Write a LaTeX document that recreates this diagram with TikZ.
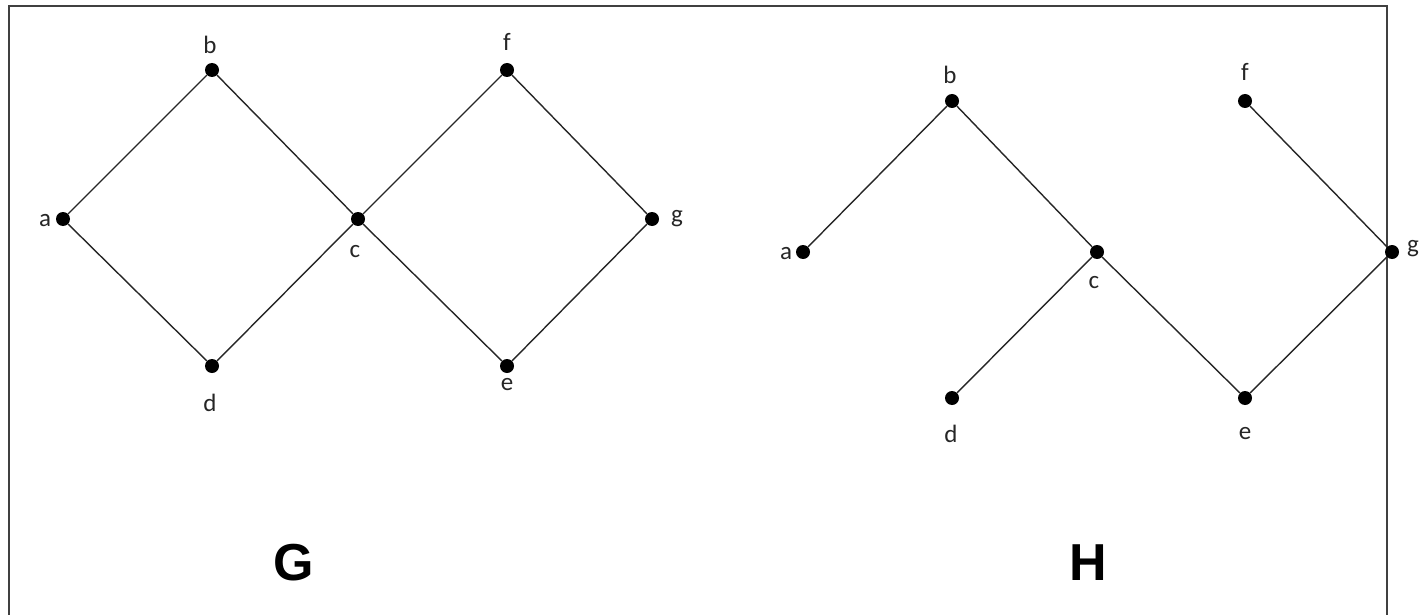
\documentclass[tikz,border=0pt]{standalone}
\usepackage{fontspec}
\setmainfont{Carlito}
\newfontfamily\bigfont{Liberation Sans}
\begin{document}
\begin{tikzpicture}[x=1pt,y=-1pt,
  vtx/.style={circle,fill=black,inner sep=0pt,minimum size=14pt},
  lbl/.style={font=\fontsize{25}{27}\selectfont,inner sep=0pt,text=black!85},
  edge/.style={draw=black!85,line width=1.4pt},
  glabel/.style={font=\bigfont\bfseries\fontsize{52}{58}\selectfont,inner sep=0pt}]
\useasboundingbox (0,0) rectangle (1420,615);
\fill[white] (0,0) rectangle (1420,615);
\draw[black!75,line width=2.5pt] (9,615) -- (9,6) -- (1387,6) -- (1387,615);
% Graph G
\node[vtx] (ga) at (63,219) {};
\node[vtx] (gb) at (212,70) {};
\node[vtx] (gc) at (358,219) {};
\node[vtx] (gd) at (212,366) {};
\node[vtx] (gf) at (507,70) {};
\node[vtx] (gg) at (652,219) {};
\node[vtx] (ge) at (507,366) {};
\draw[edge] (ga) -- (gb) -- (gc) -- (gd) -- (ga);
\draw[edge] (gc) -- (gf) -- (gg) -- (ge) -- (gc);
\node[lbl] (lga) at (45,221) {a};
\node[lbl] (lgb) at (210,45) {b};
\node[lbl] (lgc) at (355,252) {c};
\node[lbl] (lgd) at (210,403) {d};
\node[lbl] (lgf) at (507,42) {f};
\node[lbl] (lgg) at (677,219) {g};
\node[lbl] (lge) at (507,385) {e};
\node[glabel] (G) at (294,563) {G};
% Graph H
\node[vtx] (ha) at (803,252) {};
\node[vtx] (hb) at (952,101) {};
\node[vtx] (hc) at (1097,252) {};
\node[vtx] (hd) at (952,398) {};
\node[vtx] (he) at (1245,398) {};
\node[vtx] (hf) at (1245,101) {};
\node[vtx] (hg) at (1392,252) {};
\draw[edge] (ha) -- (hb) -- (hc) -- (hd);
\draw[edge] (hc) -- (he) -- (hg) -- (hf);
\node[lbl] (lha) at (786,254) {a};
\node[lbl] (lhb) at (950,75) {b};
\node[lbl] (lhc) at (1094,283) {c};
\node[lbl] (lhd) at (951,434) {d};
\node[lbl] (lhe) at (1245,434) {e};
\node[lbl] (lhf) at (1245,72) {f};
\node[lbl] (lhg) at (1413,249) {g};
\node[glabel] (H) at (1088,563) {H};
\end{tikzpicture}
\end{document}
